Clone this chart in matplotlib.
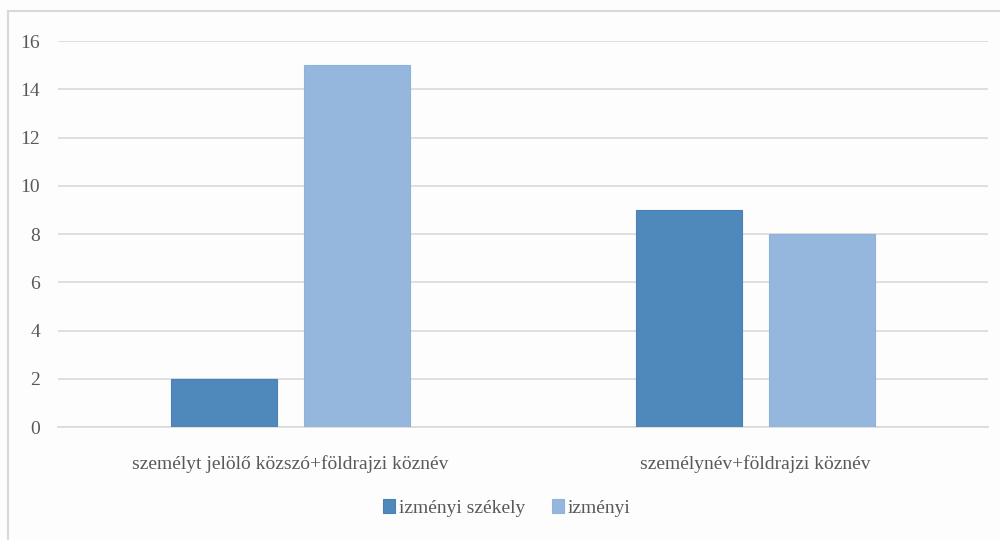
import numpy as np
import matplotlib.pyplot as plt
from matplotlib.patches import Rectangle

plt.rcParams['font.family'] = ['Liberation Serif', 'DejaVu Serif']

categories = ['személyt jelölő közszó+földrajzi köznév', 'személynév+földrajzi köznév']
series_names = ['izményi székely', 'izményi']
izmenyi_szekely = [2, 9]
izmenyi = [15, 8]

fig = plt.figure(figsize=(10, 5.4), dpi=100)
fig.patch.set_facecolor('#fdfdfd')
ax = fig.add_axes([0.058, 0.209, 0.93, 0.715])
ax.set_facecolor('#fdfdfd')

# outer frame of the chart (only top and left edges fall inside the image)
fig.add_artist(Rectangle((0.008, -0.05), 1.1, 1.03, transform=fig.transFigure,
                         fill=False, edgecolor='#d9d9d9', linewidth=1.5))

x = np.arange(len(categories))
w = 0.226
off = 0.143
ax.bar(x - off, izmenyi_szekely, w, color='#4f88bb', edgecolor='#4a80b3', linewidth=0.8,
       label=series_names[0], zorder=3)
ax.bar(x + off, izmenyi, w, color='#95b7de', edgecolor='#8fb2da', linewidth=0.8,
       label=series_names[1], zorder=3)

ax.set_xlim(-0.5, 1.5)
ax.set_ylim(0, 16)
ax.set_yticks(range(0, 17, 2))
ax.yaxis.grid(True, color='#d9d9d9', linewidth=1.2, zorder=0)
ax.set_xticks(x)
ax.set_xticklabels(categories)
for s in ax.spines.values():
    s.set_visible(False)
ax.spines['bottom'].set_visible(True)
ax.spines['bottom'].set_color('#d9d9d9')
ax.spines['bottom'].set_linewidth(1.2)
ax.tick_params(axis='both', length=0, colors='#595959', labelsize=14)
ax.tick_params(axis='y', pad=13)
ax.tick_params(axis='x', pad=20)

leg = fig.legend(loc='center', bbox_to_anchor=(0.507, 0.06), ncol=2, frameon=False,
                 fontsize=14, handlelength=0.6, handleheight=0.8, handletextpad=0.2,
                 columnspacing=1.4, labelcolor='#595959')

fig.savefig('out.png', dpi=100, facecolor=fig.get_facecolor())
